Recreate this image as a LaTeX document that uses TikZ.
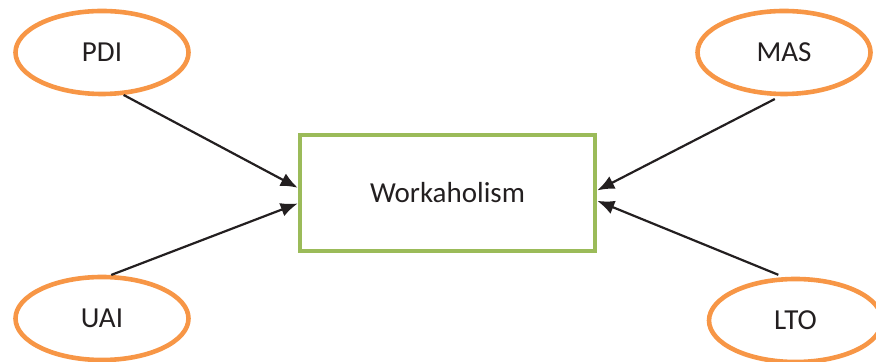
\documentclass[tikz,border=0pt]{standalone}
\usepackage{fontspec}
\setmainfont{Carlito}
\usetikzlibrary{shapes.geometric,arrows.meta}
\definecolor{dimorange}{HTML}{F79646}
\definecolor{outgreen}{HTML}{9BBB59}
\definecolor{textgray}{HTML}{231F20}
\begin{document}
\begin{tikzpicture}[
    x=0.5pt, y=-0.5pt,
    dim_node/.style={ellipse, draw=dimorange, line width=2.3pt, inner sep=0pt, minimum width=86.5pt, minimum height=41.5pt, text=textgray, font=\fontsize{14.5}{17}\selectfont},
    out_node/.style={rectangle, draw=outgreen, line width=2.3pt, inner sep=0pt, minimum width=147.5pt, minimum height=58pt, text=textgray, font=\fontsize{14.5}{17}\selectfont},
    edge_arrow/.style={draw=textgray, line width=1.1pt, -{Latex[length=8.5pt,width=7pt]}}
]
\useasboundingbox (0,0) rectangle (876,362);
\node[out_node] (work) at (447.5,193) {Workaholism};
\node[dim_node] (pdi) at (102,52.5) {PDI};
\node[dim_node] (uai) at (102,318.5) {UAI};
\node[dim_node] (mas) at (784,52.5) {MAS};
\node[dim_node] (lto) at (795.5,320.5) {LTO};
\draw[edge_arrow] (pdi.-63) -- (work.178.4);
\draw[edge_arrow] (uai.78) -- (work.184.3);
\draw[edge_arrow, shorten <=3pt] (mas.-95) -- (work.1.2);
\draw[edge_arrow, shorten <=3pt] (lto.105) -- (work.-3.5);
\end{tikzpicture}
\end{document}
